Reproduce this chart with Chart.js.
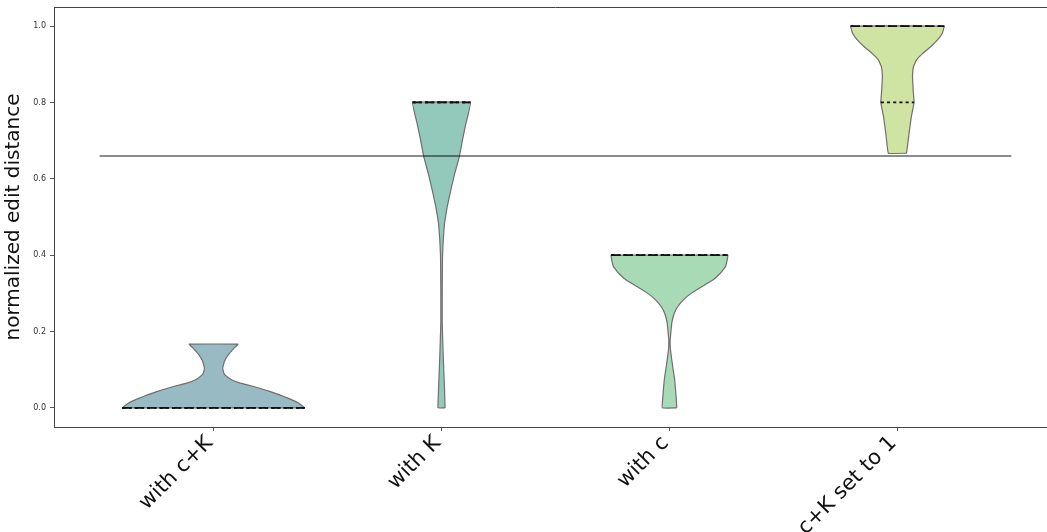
<!DOCTYPE html>
<html>
<head>
<meta charset="utf-8">
<script src="https://cdn.jsdelivr.net/npm/chart.js@4/dist/chart.umd.min.js"></script>
<style>
  html, body { margin: 0; padding: 0; background: #fff; overflow: hidden; }
  #wrap { position: absolute; left: 0; top: 0; width: 1100px; height: 560px; }
</style>
</head>
<body>
<div id="wrap"><canvas id="chart" width="1100" height="560"></canvas></div>
<script>
// Categories along the x axis
const categories = ['with c+K', 'with K', 'with c', 'c+K set to 1'];

// Violin profiles: density half-width (in category units) at each distance level
const cK_levels = [0, 0.004, 0.012, 0.021, 0.030, 0.038, 0.047, 0.056, 0.065, 0.073, 0.082, 0.091, 0.104, 0.121, 0.139, 0.156, 0.167];
const cK_width  = [0.400, 0.393, 0.374, 0.344, 0.308, 0.271, 0.227, 0.176, 0.118, 0.081, 0.059, 0.045, 0.040, 0.047, 0.064, 0.089, 0.107];

const K_levels = [0, 0.048, 0.135, 0.222, 0.310, 0.397, 0.440, 0.484, 0.527, 0.571, 0.614, 0.658, 0.702, 0.745, 0.8];
const K_width  = [0.0154, 0.0132, 0.0075, 0.0031, 0.0031, 0.0044, 0.0075, 0.0132, 0.025, 0.041, 0.058, 0.078, 0.092, 0.107, 0.127];

const c_levels = [0, 0.030, 0.073, 0.117, 0.152, 0.178, 0.222, 0.248, 0.265, 0.283, 0.300, 0.318, 0.335, 0.352, 0.370, 0.387, 0.4];
const c_width  = [0.032, 0.029, 0.023, 0.012, 0.0044, 0.003, 0.010, 0.021, 0.036, 0.061, 0.095, 0.143, 0.190, 0.222, 0.246, 0.253, 0.256];

const ck1_levels = [0.667, 0.719, 0.763, 0.8, 0.833, 0.867, 0.893, 0.911, 0.928, 0.946, 0.963, 0.981, 1.0];
const ck1_width  = [0.040, 0.051, 0.061, 0.073, 0.069, 0.066, 0.070, 0.083, 0.110, 0.146, 0.175, 0.197, 0.205];

// Quartiles per category
const q25 = [0, 0.8, 0.4, 0.8];
const q50 = [0, 0.8, 0.4, 1.0];
const q75 = [0, 0.8, 0.4, 1.0];

// Reference threshold line
const threshold = 0.66;

// Y tick values
const yTicks = [0, 0.2, 0.4, 0.6, 0.8, 1.0];

const profiles = [
  { levels: cK_levels, width: cK_width },
  { levels: K_levels, width: K_width },
  { levels: c_levels, width: c_width },
  { levels: ck1_levels, width: ck1_width }
];
const fills = ['#98bac3', '#93c9bb', '#a9dab6', '#cfe4a3'];
const edge = '#6f6f6f';

function halfWidthAt(p, v) {
  const L = p.levels, W = p.width;
  if (v <= L[0]) return W[0];
  for (let i = 1; i < L.length; i++) {
    if (v <= L[i]) {
      const t = (v - L[i - 1]) / (L[i] - L[i - 1]);
      return W[i - 1] + t * (W[i] - W[i - 1]);
    }
  }
  return W[W.length - 1];
}

function violinOutline(p, center) {
  const pts = [];
  for (let i = 0; i < p.levels.length; i++) pts.push({ x: center + p.width[i], y: p.levels[i] });
  for (let i = p.levels.length - 1; i >= 0; i--) pts.push({ x: center - p.width[i], y: p.levels[i] });
  pts.push(pts[0]);
  return pts;
}

const datasets = [];

// threshold line on top
datasets.push({
  data: [{ x: -0.5, y: threshold }, { x: 3.5, y: threshold }],
  borderColor: 'rgba(0,0,0,0.45)', borderWidth: 2, pointRadius: 0, fill: false, order: 0
});

// quartile lines
profiles.forEach((p, i) => {
  [[q25[i], [3.1, 3.1]], [q50[i], [6.25, 6.25]], [q75[i], [3.1, 3.1]]].forEach(([q, dash]) => {
    const w = halfWidthAt(p, q);
    datasets.push({
      data: [{ x: i - w, y: q }, { x: i + w, y: q }],
      borderColor: '#111', borderWidth: 1.8, borderDash: dash, pointRadius: 0, fill: false, order: 1
    });
  });
});

// violin bodies (a tiny tension keeps the full path renderer for thin, near-vertical edges)
profiles.forEach((p, i) => {
  datasets.push({
    data: violinOutline(p, i),
    borderColor: edge, borderWidth: 1.2, backgroundColor: fills[i],
    fill: 'shape', pointRadius: 0, tension: 0.05, order: 2
  });
});

const topSpine = {
  id: 'topSpine',
  afterDatasetsDraw(chart) {
    const { ctx, chartArea: a } = chart;
    ctx.save();
    ctx.strokeStyle = '#444';
    ctx.lineWidth = 1;
    ctx.beginPath();
    ctx.moveTo(a.left, a.top + 0.5);
    ctx.lineTo(a.right, a.top + 0.5);
    ctx.moveTo(a.right - 0.5, a.top);
    ctx.lineTo(a.right - 0.5, a.bottom);
    ctx.stroke();
    ctx.restore();
  }
};

new Chart(document.getElementById('chart'), {
  type: 'scatter',
  data: { datasets: datasets.map(d => Object.assign({ showLine: true }, d)) },
  plugins: [topSpine],
  options: {
    responsive: false,
    animation: false,
    devicePixelRatio: 1,
    layout: { padding: { top: 7, right: 43, left: 0, bottom: 0 } },
    plugins: { legend: { display: false }, tooltip: { enabled: false } },
    events: [],
    scales: {
      x: {
        type: 'linear', min: -0.7, max: 3.7,
        afterBuildTicks: s => { s.ticks = categories.map((c, i) => ({ value: i })); },
        afterFit: s => { s.height = 133; s.paddingLeft = 0; s.paddingRight = 0; },
        ticks: {
          callback: v => categories[v],
          minRotation: 45, maxRotation: 45, autoSkip: false,
          padding: 0,
          labelOffset: -4,
          color: '#111',
          font: { family: 'DejaVu Sans', size: 21 }
        },
        grid: { display: true, drawOnChartArea: false, drawTicks: true, tickLength: 4, color: '#555' },
        border: { display: true, color: '#444', width: 1 }
      },
      y: {
        type: 'linear', min: -0.05, max: 1.05,
        afterBuildTicks: s => { s.ticks = yTicks.map(v => ({ value: v })); },
        afterFit: s => { s.width = 54; s.paddingTop = 0; s.paddingBottom = 0; },
        ticks: {
          callback: v => v.toFixed(1),
          padding: 4,
          color: '#333',
          font: { family: 'DejaVu Sans', size: 8 }
        },
        grid: { display: true, drawOnChartArea: false, drawTicks: true, tickLength: 4, color: '#555' },
        border: { display: true, color: '#444', width: 1 },
        title: {
          display: true, text: 'normalized edit distance',
          color: '#111', padding: { top: 2, bottom: 0 },
          font: { family: 'DejaVu Sans', size: 20 }
        }
      }
    }
  }
});
</script>
</body>
</html>
